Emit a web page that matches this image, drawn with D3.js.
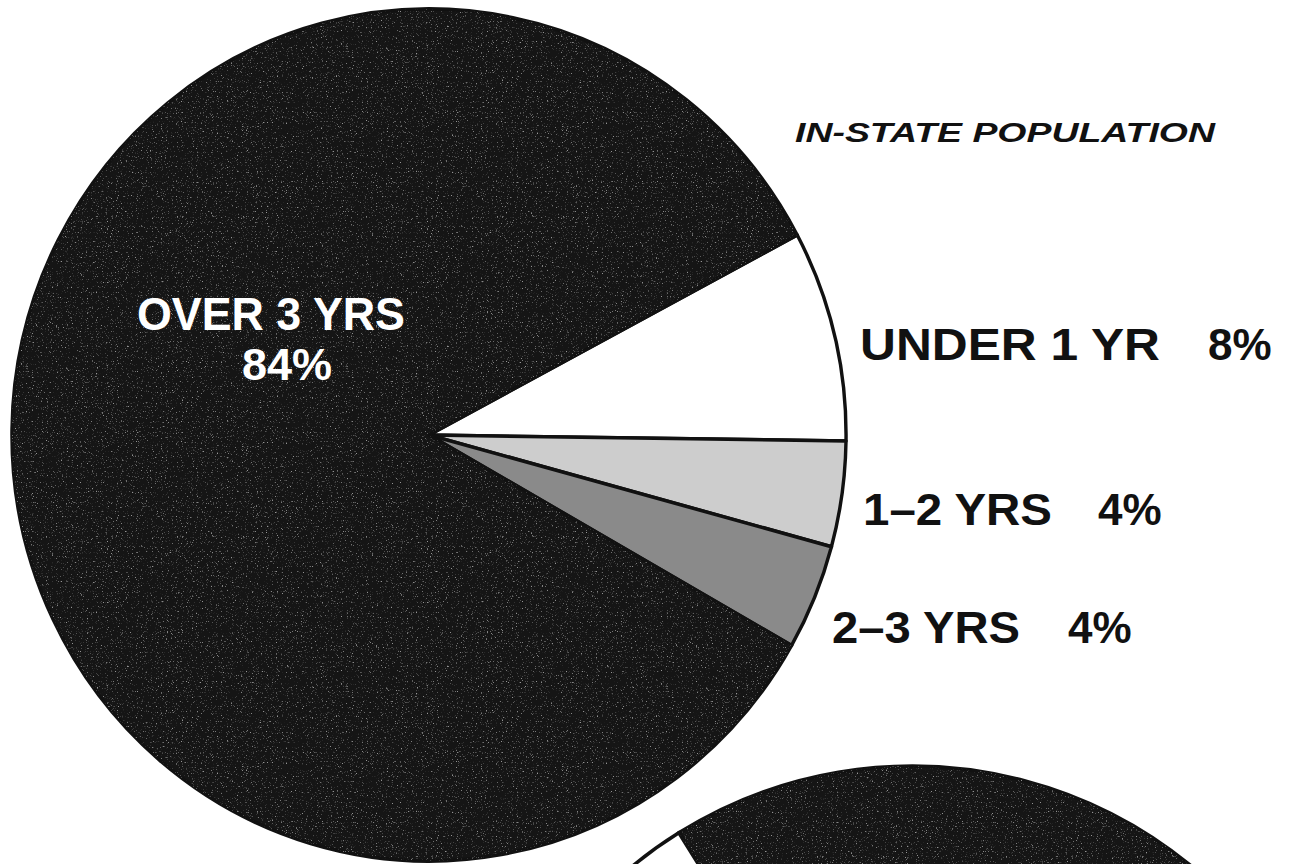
<!DOCTYPE html>
<html>
<head>
<meta charset="utf-8">
<script src="https://cdn.jsdelivr.net/npm/d3@7"></script>
<style>
  html, body { margin: 0; padding: 0; background: #fff; }
  svg { display: block; }
  text { font-family: "Liberation Sans", Arial, Helvetica, sans-serif; font-weight: bold; }
</style>
</head>
<body>
<div id="chart"></div>
<script>
// in-state pie
var categories = ["UNDER 1 YR", "1\u20132 YRS", "2\u20133 YRS", "OVER 3 YRS"];
var inStateValues = [8, 4, 4, 84];
var sliceColors = ["#ffffff", "#cdcdcd", "#8a8a8a", "#151515"];

// second pie, only its top edge shows; shares are a guess
var outStateCategories = ["OVER 3 YRS", "UNDER 1 YR"];
var outStateValues = [78, 22];
var outStateColors = ["#151515", "#ffffff"];

var title = "IN-STATE POPULATION";

width = 1290;
height = 864;
cx = 429;
cy = 435;
radius = 426;
squeeze = 0.979;   // the scan is a bit narrower than tall
cx2 = 912;
cy2 = 1206;
radius2 = 440;

svg = d3.select("#chart").append("svg")
    .attr("width", width)
    .attr("height", height);

defs = svg.append("defs");

grain = defs.append("filter")
    .attr("id", "grain")
    .attr("x", 0).attr("y", 0)
    .attr("width", "100%").attr("height", "100%");
grain.append("feTurbulence")
    .attr("type", "fractalNoise")
    .attr("baseFrequency", 0.8)
    .attr("numOctaves", 2)
    .attr("seed", 7);
grain.append("feColorMatrix")
    .attr("type", "matrix")
    .attr("values", "0 0 0 0 1  0 0 0 0 1  0 0 0 0 1  5 0 0 0 -3.1");

var deg = Math.PI / 180;

pie = d3.pie()
    .sort(null)
    .value(function(d) { return d; })
    .startAngle(62 * deg)
    .endAngle(62 * deg + 2 * Math.PI);

arc = d3.arc()
    .innerRadius(0)
    .outerRadius(radius);

slices = pie(inStateValues);

g1 = svg.append("g")
    .attr("transform", "translate(" + cx + "," + cy + ") scale(" + squeeze + ",1)");

g1.selectAll("path.slice")
    .data(slices)
    .enter().append("path")
    .attr("class", "slice")
    .attr("d", arc)
    .style("fill", function(d, i) { return sliceColors[i]; })
    .style("stroke", "#111")
    .style("stroke-width", 3.5)
    .style("stroke-linejoin", "round");

// speckle on the big black slice
defs.append("clipPath").attr("id", "clipBig")
    .append("path")
    .attr("d", arc(slices[3]))
    .attr("transform", "translate(" + cx + "," + cy + ") scale(" + squeeze + ",1)");

svg.append("rect")
    .attr("x", 0).attr("y", 0)
    .attr("width", width).attr("height", height)
    .attr("clip-path", "url(#clipBig)")
    .attr("filter", "url(#grain)")
    .style("opacity", 0.55);

// second pie peeking in at the bottom
pie2 = d3.pie()
    .sort(null)
    .value(function(d) { return d; })
    .startAngle(-32 * deg)
    .endAngle(-32 * deg + 2 * Math.PI);

arc2 = d3.arc()
    .innerRadius(0)
    .outerRadius(radius2);

slices2 = pie2(outStateValues);

g2 = svg.append("g")
    .attr("transform", "translate(" + cx2 + "," + cy2 + ")");

g2.selectAll("path.slice")
    .data(slices2)
    .enter().append("path")
    .attr("class", "slice")
    .attr("d", arc2)
    .style("fill", function(d, i) { return outStateColors[i]; })
    .style("stroke", "#111")
    .style("stroke-width", 3.5);

defs.append("clipPath").attr("id", "clipBig2")
    .append("path")
    .attr("d", arc2(slices2[0]))
    .attr("transform", "translate(" + cx2 + "," + cy2 + ")");

svg.append("rect")
    .attr("x", 0).attr("y", 0)
    .attr("width", width).attr("height", height)
    .attr("clip-path", "url(#clipBig2)")
    .attr("filter", "url(#grain)")
    .style("opacity", 0.55);

// title
svg.append("text")
    .attr("x", 795)
    .attr("y", 142)
    .attr("textLength", 420)
    .attr("lengthAdjust", "spacingAndGlyphs")
    .style("font-size", "27.5px")
    .style("font-style", "italic")
    .style("fill", "#111")
    .text(title);

// label inside the black slice
svg.append("text")
    .attr("x", 271)
    .attr("y", 330)
    .attr("text-anchor", "middle")
    .attr("textLength", 268)
    .attr("lengthAdjust", "spacingAndGlyphs")
    .style("font-size", "46px")
    .style("fill", "#fff")
    .text(categories[3]);

svg.append("text")
    .attr("x", 287)
    .attr("y", 380)
    .attr("text-anchor", "middle")
    .style("font-size", "45px")
    .style("fill", "#fff")
    .text(inStateValues[3] + "%");

// labels on the right
var labelX = [860, 863, 832];
var labelY = [360, 525, 643];
var labelW = [300, 189, 188];
var pctX = [1208, 1098, 1068];

for (var i = 0; i < 3; i++) {
    svg.append("text")
        .attr("x", labelX[i])
        .attr("y", labelY[i])
        .attr("textLength", labelW[i])
        .attr("lengthAdjust", "spacingAndGlyphs")
        .style("font-size", "44px")
        .style("fill", "#111")
        .text(categories[i]);

    svg.append("text")
        .attr("x", pctX[i])
        .attr("y", labelY[i])
        .style("font-size", "44px")
        .style("fill", "#111")
        .text(inStateValues[i] + "%");
}
</script>
</body>
</html>
